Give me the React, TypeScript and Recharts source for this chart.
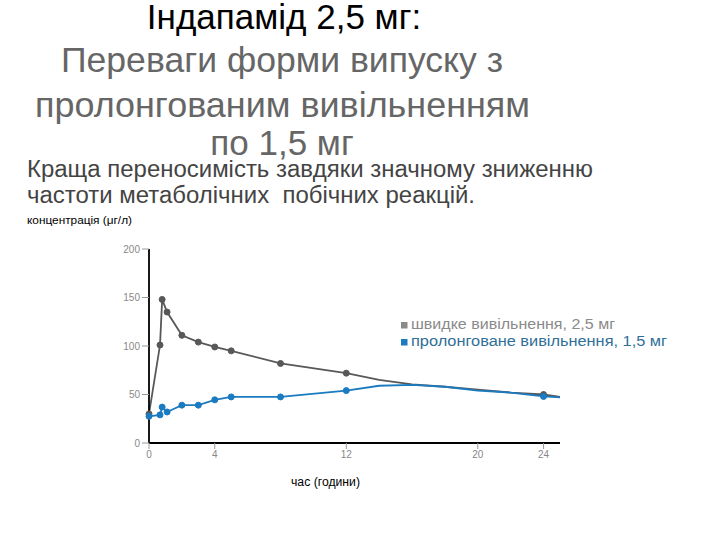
import { LineChart, Line, XAxis, YAxis } from 'recharts'

// hours after dose and plasma concentration (µg/l)
const fastHours = [0, 0.67, 0.8, 1.1, 2, 3, 4, 5, 8, 12, 14, 16, 18, 20, 22, 24, 25]
const fastConc = [30, 101, 148, 135, 111, 104, 99, 95, 82, 72, 65, 60.5, 58, 55, 52, 50, 47.5]
const fastDots = [1, 1, 1, 1, 1, 1, 1, 1, 1, 1, 0, 0, 0, 0, 0, 1, 0]

const slowHours = [0, 0.67, 0.8, 1.1, 2, 3, 4, 5, 8, 12, 14, 16, 18, 20, 22, 24, 25]
const slowConc = [27.5, 29, 37, 32, 39, 39, 44.5, 47.5, 47.5, 54, 59, 60, 58, 54, 52, 48, 47]
const slowDots = [1, 1, 1, 1, 1, 1, 1, 1, 1, 1, 0, 0, 0, 0, 0, 1, 0]

const xTicks = [0, 4, 12, 20, 24]
const yTicks = [0, 50, 100, 150, 200]

const seriesNames = ['швидке вивільнення, 2,5 мг', 'пролонговане вивільнення, 1,5 мг']
const FAST = '#585858'
const SLOW = '#1b7bc0'

const fastData = fastHours.map((h, i) => ({ h, c: fastConc[i], dot: fastDots[i] }))
const slowData = slowHours.map((h, i) => ({ h, c: slowConc[i], dot: slowDots[i] }))

const makeDot = (color: string) => (props: any) => {
  const { cx, cy, payload, index } = props
  if (!payload || !payload.dot) return <g key={index} />
  return <circle key={index} cx={cx} cy={cy} r={3} fill={color} stroke={color} />
}

const font = 'Liberation Sans, Arial, sans-serif'
const narrow = 'Liberation Sans Narrow, Liberation Sans, Arial, sans-serif'

export default function App() {
  return (
    <div style={{ position: 'absolute', left: 0, top: 0, width: 720, height: 540, background: '#fff' }}>
      <LineChart
        width={720}
        height={540}
        margin={{ top: 249, right: 160, bottom: 67, left: 119 }}
        style={{ position: 'absolute', left: 0, top: 0 }}
      >
        <XAxis
          type="number"
          dataKey="h"
          domain={[0, 25]}
          ticks={xTicks}
          height={30}
          axisLine={{ stroke: '#000', strokeWidth: 1.8 }}
          tickLine={{ stroke: '#999' }}
          tickSize={6}
          tick={{ fontSize: 10, fill: '#888', fontFamily: narrow }}
          allowDuplicatedCategory={false}
        />
        <YAxis
          type="number"
          dataKey="c"
          domain={[0, 200]}
          ticks={yTicks}
          width={30}
          axisLine={{ stroke: '#000', strokeWidth: 1.8 }}
          tickLine={{ stroke: '#999' }}
          tickSize={7}
          tick={{ fontSize: 10, fill: '#888', fontFamily: narrow }}
        />
        <Line
          data={fastData}
          dataKey="c"
          name={seriesNames[0]}
          type="linear"
          stroke={FAST}
          strokeWidth={1.8}
          dot={makeDot(FAST)}
          activeDot={false}
          isAnimationActive={false}
        />
        <Line
          data={slowData}
          dataKey="c"
          name={seriesNames[1]}
          type="linear"
          stroke={SLOW}
          strokeWidth={1.8}
          dot={makeDot(SLOW)}
          activeDot={false}
          isAnimationActive={false}
        />
      </LineChart>
      <svg width={720} height={540} style={{ position: 'absolute', left: 0, top: 0, pointerEvents: 'none' }} fontFamily={font}>
        <text x={284} y={29} fontSize={35} fill="#000" textAnchor="middle">Індапамід 2,5 мг:</text>
        <text x={61} y={72} fontSize={35} fill="#666" textLength={442} lengthAdjust="spacingAndGlyphs">Переваги форми випуску з</text>
        <text x={35} y={117} fontSize={35} fill="#666" textLength={495} lengthAdjust="spacingAndGlyphs">пролонгованим вивільненням</text>
        <text x={282} y={155} fontSize={35} fill="#666" textAnchor="middle">по 1,5 мг</text>
        <text x={27} y={177} fontSize={23} fill="#444" textLength={566} lengthAdjust="spacingAndGlyphs">Краща переносимість завдяки значному зниженню</text>
        <text x={27} y={203} fontSize={23} fill="#444" textLength={448} lengthAdjust="spacingAndGlyphs" style={{ whiteSpace: 'pre' }}>частоти метаболічних  побічних реакцій.</text>
        <text x={27} y={224} fontSize={11.5} fill="#000" fontFamily={narrow} textLength={105} lengthAdjust="spacingAndGlyphs">концентрація (μг/л)</text>
        <text x={291} y={486} fontSize={12} fill="#000" fontFamily={narrow} textLength={69} lengthAdjust="spacingAndGlyphs">час (години)</text>
        <rect x={401} y={322} width={6.5} height={6.5} fill="#8a8a8a" />
        <text x={411} y={329} fontSize={14} fill="#8a8a8a" textLength={204} lengthAdjust="spacingAndGlyphs">{seriesNames[0]}</text>
        <rect x={401} y={339} width={6.5} height={6.5} fill={SLOW} />
        <text x={411} y={346} fontSize={14} fill="#2f6f99" textLength={256} lengthAdjust="spacingAndGlyphs">{seriesNames[1]}</text>
      </svg>
    </div>
  )
}
